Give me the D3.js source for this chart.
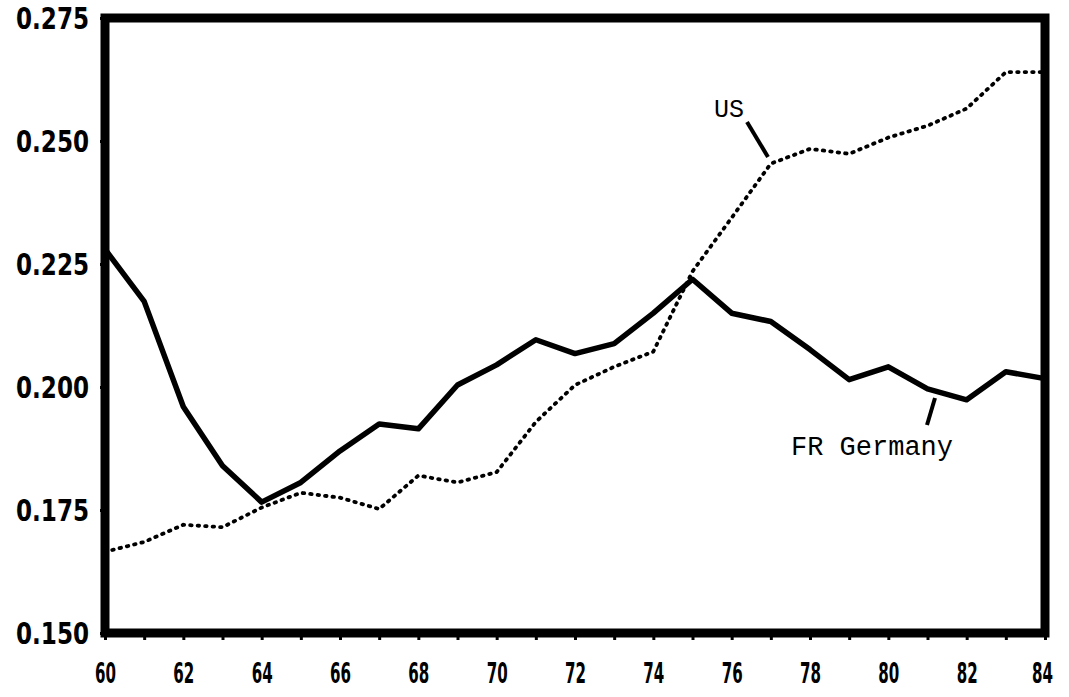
<!DOCTYPE html>
<html>
<head>
<meta charset="utf-8">
<script src="https://cdn.jsdelivr.net/npm/d3@7"></script>
<style>
	body { margin: 0; background: #fff; }
</style>
</head>
<body>
<script>
//Donnees
var annees = [60,61,62,63,64,65,66,67,68,69,70,71,72,73,74,75,76,77,78,79,80,81,82,83,84];
var germany = [0.228,0.2174,0.196,0.184,0.1766,0.1806,0.187,0.1925,0.1915,0.2004,0.2045,0.2096,0.2068,0.2088,0.215,0.2219,0.215,0.2133,0.2076,0.2015,0.2041,0.1996,0.1974,0.2031,0.2017];
var us = [0.1665,0.1685,0.172,0.1715,0.1755,0.1785,0.1775,0.1752,0.182,0.1806,0.1827,0.1929,0.2004,0.2041,0.2072,0.2235,0.2344,0.2454,0.2484,0.2474,0.2507,0.2531,0.2566,0.264,0.264];
var yTicks = [0.150,0.175,0.200,0.225,0.250,0.275];
var yLabels = ["0.150","0.175","0.200","0.225","0.250","0.275"];
var xTicks = [60,62,64,66,68,70,72,74,76,78,80,82,84];

var w = 1069;
var h = 697;
var gauche = 105, droite = 1045, haut = 18, bas = 633;

var x = d3.scaleLinear().domain([60, 84]).range([gauche, droite]);
var y = d3.scaleLinear().domain([0.150, 0.275]).range([bas, haut]);

var svg = d3.select("body")
	.append("svg")
	.attr("width", w)
	.attr("height", h)

//Axe X : petits traits chaque annee, etiquettes tous les deux ans
var xAxis = d3.axisBottom(x)
	.tickValues(annees)
	.tickSize(7)
	.tickFormat(function(d) { return xTicks.indexOf(d) >= 0 ? d : ""; })

var gx = svg.append("g")
	.attr("transform", "translate(0," + bas + ")")
	.call(xAxis)
gx.select(".domain").remove()
gx.selectAll("line").attr("stroke", "#000").attr("stroke-width", 3)
gx.selectAll("text")
	.attr("y", 50)
	.attr("dy", 0)
	.attr("dx", function(d) { return d == 84 ? -3 : 0; })
	.style("font-family", "'DejaVu Sans Condensed', 'DejaVu Sans'")
	.style("font-weight", "bold")
	.style("font-size", "29px")
	.attr("fill", "#000")
	.attr("textLength", function(d) { return xTicks.indexOf(d) >= 0 ? 21 : null; })
	.attr("lengthAdjust", "spacingAndGlyphs")

//Axe Y
var yAxis = d3.axisLeft(y)
	.tickValues(yTicks)
	.tickSize(5)
	.tickPadding(11)
	.tickFormat(function(d, i) { return yLabels[i]; })

var gy = svg.append("g")
	.attr("transform", "translate(" + gauche + ",0)")
	.call(yAxis)
gy.select(".domain").remove()
gy.selectAll("line").attr("stroke", "#000").attr("stroke-width", 3)
gy.selectAll("text")
	.attr("dy", "0.36em")
	.style("font-family", "'DejaVu Sans Condensed', 'DejaVu Sans'")
	.style("font-weight", "bold")
	.style("font-size", "30px")
	.attr("fill", "#000")
	.attr("textLength", 73)
	.attr("lengthAdjust", "spacingAndGlyphs")

//Cadre epais
svg.append("rect")
	.attr("x", gauche)
	.attr("y", haut)
	.attr("width", droite - gauche)
	.attr("height", bas - haut)
	.attr("fill", "none")
	.attr("stroke", "#000")
	.attr("stroke-width", 9)

var ligne = function(serie) {
	return d3.line()
		.x(function(d, i) { return x(annees[i]); })
		.y(function(d) { return y(d); })(serie);
}

//US en pointille
svg.append("path")
	.attr("d", ligne(us))
	.attr("fill", "none")
	.attr("stroke", "#000")
	.attr("stroke-width", 3.8)
	.attr("stroke-linecap", "round")
	.attr("stroke-dasharray", "1.5,6")

//Allemagne trait epais
svg.append("path")
	.attr("d", ligne(germany))
	.attr("fill", "none")
	.attr("stroke", "#000")
	.attr("stroke-width", 5.5)
	.attr("stroke-linejoin", "round")

//Etiquettes des series
svg.append("text")
	.text("US")
	.attr("x", 714)
	.attr("y", 117)
	.style("font-family", "'Liberation Mono', 'DejaVu Sans Mono'")
	.style("font-size", "25px")

svg.append("line")
	.attr("x1", 747).attr("y1", 122)
	.attr("x2", 768).attr("y2", 157)
	.attr("stroke", "#000")
	.attr("stroke-width", 4)

svg.append("text")
	.text("FR Germany")
	.attr("x", 791)
	.attr("y", 455)
	.style("font-family", "'Liberation Mono', 'DejaVu Sans Mono'")
	.style("font-size", "27px")

svg.append("line")
	.attr("x1", 935).attr("y1", 398)
	.attr("x2", 927).attr("y2", 425)
	.attr("stroke", "#000")
	.attr("stroke-width", 4)
</script>
</body>
</html>
